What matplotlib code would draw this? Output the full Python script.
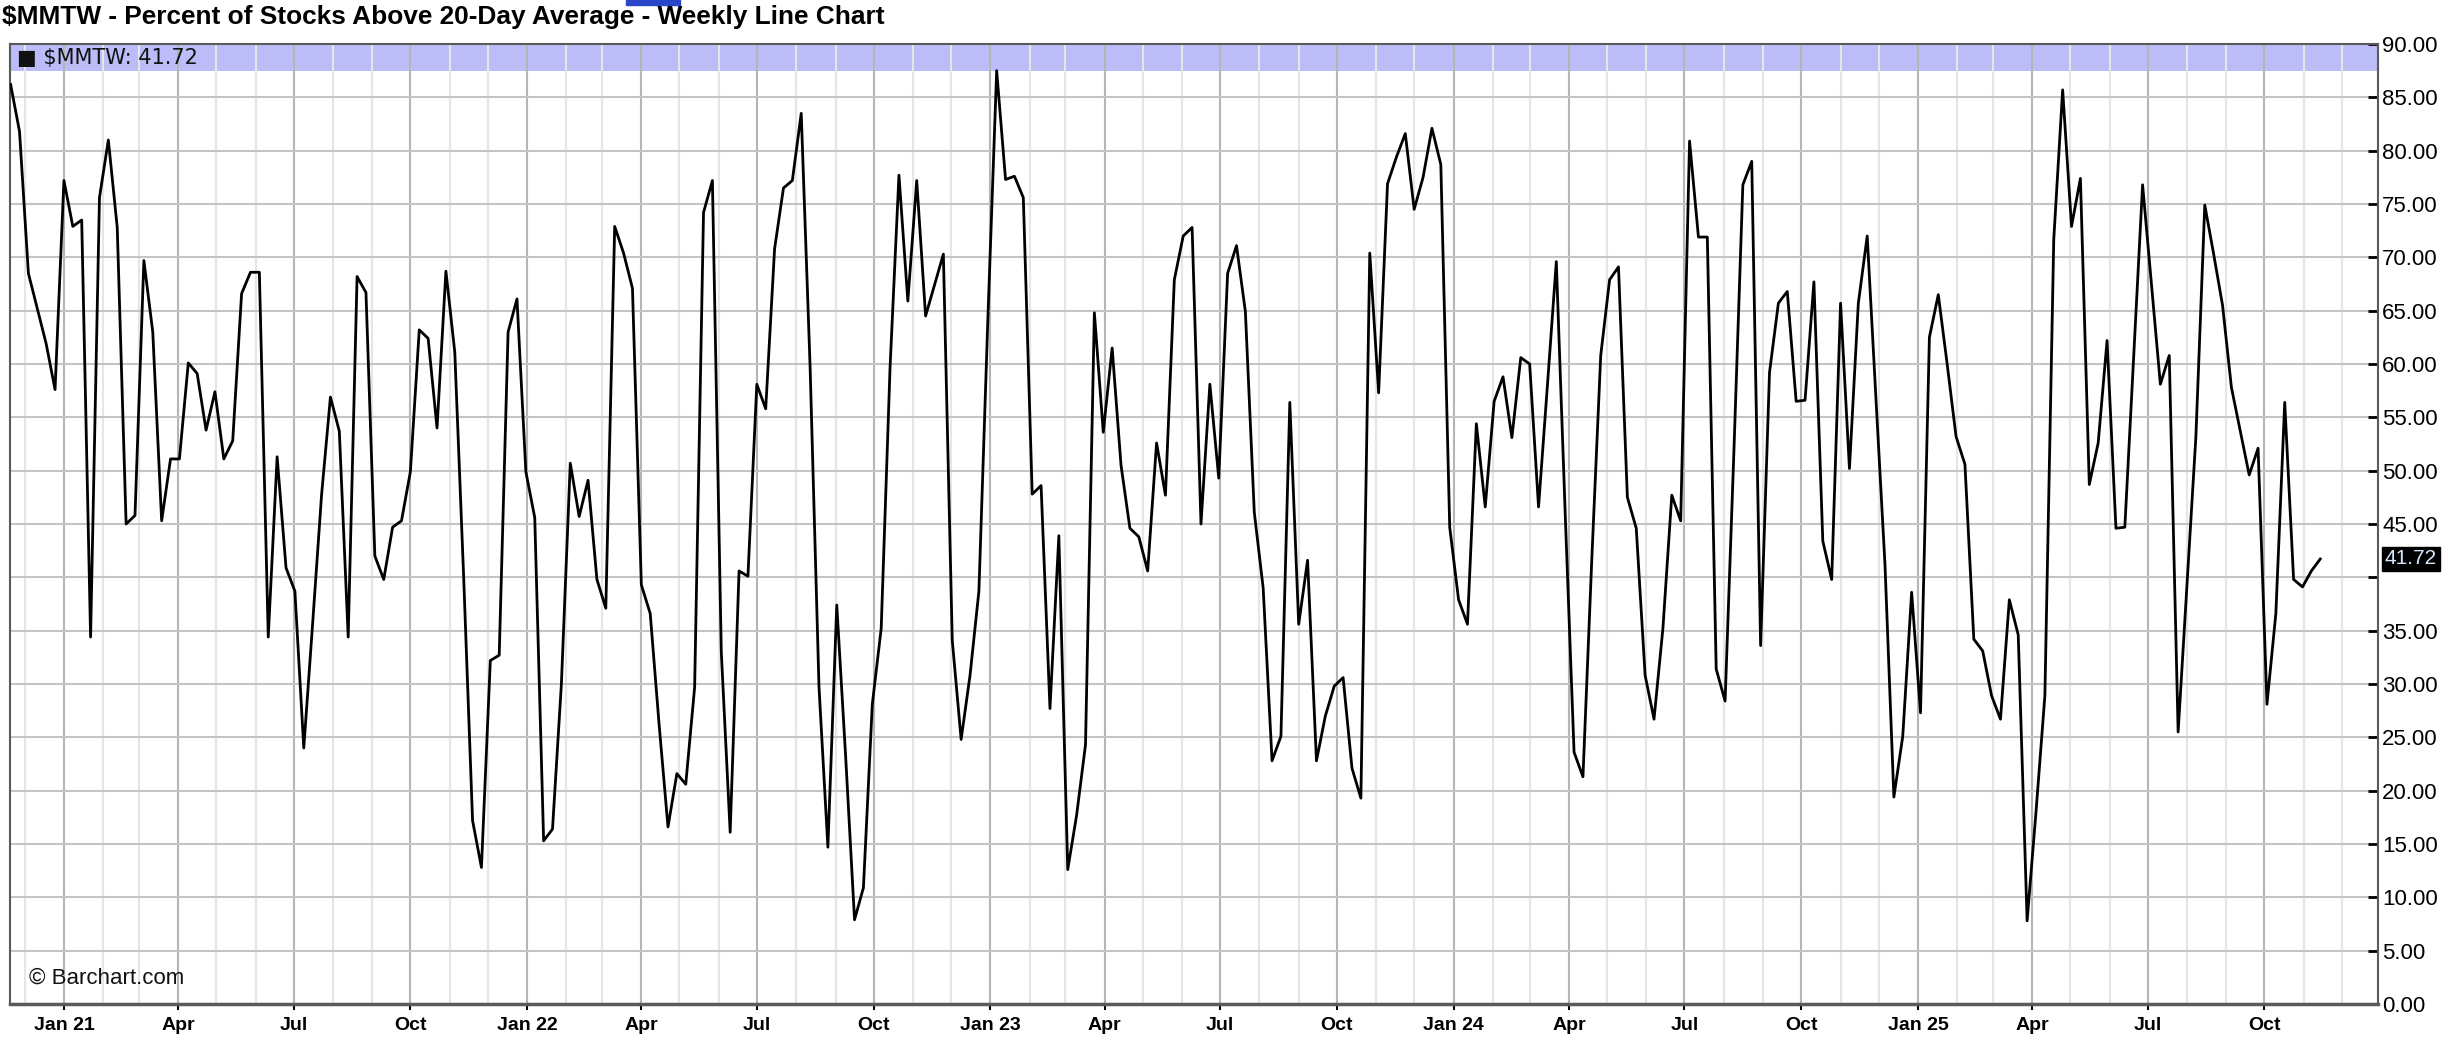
import numpy as np
import pandas as pd
import matplotlib
matplotlib.use("Agg")
import matplotlib.pyplot as plt
import matplotlib.dates as mdates
from matplotlib.ticker import FixedLocator, FuncFormatter
from matplotlib.patches import Rectangle

plt.rcParams['text.parse_math'] = False
NARROW = ['Liberation Sans Narrow', 'Liberation Sans', 'DejaVu Sans']
plt.rcParams['font.family'] = NARROW

# weekly readings of $MMTW, first week ending 2020-11-20
start_date = '2020-11-20'
mmtw = [
    86.2, 81.8, 68.5, 65.2, 61.9, 57.6, 77.2, 72.9, 73.5, 34.4,
    75.6, 81.0, 72.8, 45.0, 45.8, 69.7, 63.0, 45.3, 51.1, 51.1,
    60.1, 59.1, 53.8, 57.4, 51.1, 52.8, 66.6, 68.6, 68.6, 34.4,
    51.3, 40.9, 38.7, 24.0, 35.7, 47.7, 56.9, 53.7, 34.4, 68.2,
    66.7, 42.0, 39.8, 44.7, 45.3, 49.9, 63.2, 62.4, 54.0, 68.7,
    61.1, 40.0, 17.2, 12.8, 32.2, 32.7, 63.0, 66.1, 49.9, 45.6,
    15.3, 16.4, 30.0, 50.7, 45.7, 49.1, 39.8, 37.1, 72.9, 70.4,
    67.1, 39.3, 36.6, 26.2, 16.6, 21.6, 20.6, 29.7, 74.2, 77.2,
    33.0, 16.1, 40.6, 40.1, 58.1, 55.8, 70.8, 76.5, 77.2, 83.5,
    59.7, 29.7, 14.7, 37.4, 23.2, 7.9, 10.9, 28.1, 35.2, 59.7,
    77.7, 65.9, 77.2, 64.5, 67.4, 70.3, 34.1, 24.8, 30.8, 38.7,
    64.0, 87.5, 77.3, 77.6, 75.6, 47.8, 48.6, 27.7, 43.9, 12.6,
    17.7, 24.3, 64.8, 53.6, 61.5, 50.5, 44.6, 43.8, 40.6, 52.6,
    47.7, 67.9, 72.0, 72.8, 45.0, 58.1, 49.3, 68.5, 71.1, 64.9,
    46.1, 39.0, 22.8, 25.1, 56.4, 35.6, 41.6, 22.8, 27.0, 29.8,
    30.6, 22.1, 19.3, 70.4, 57.3, 76.9, 79.4, 81.6, 74.5, 77.5,
    82.1, 78.7, 44.7, 37.9, 35.6, 54.4, 46.6, 56.5, 58.8, 53.1,
    60.6, 60.0, 46.6, 58.0, 69.6, 46.0, 23.6, 21.3, 41.8, 60.8,
    67.9, 69.1, 47.5, 44.6, 30.8, 26.7, 35.2, 47.7, 45.3, 80.9,
    71.9, 71.9, 31.4, 28.4, 52.0, 76.8, 79.0, 33.6, 59.2, 65.7,
    66.8, 56.5, 56.6, 67.7, 43.4, 39.8, 65.7, 50.2, 65.7, 72.0,
    56.5, 41.2, 19.4, 25.1, 38.6, 27.3, 62.5, 66.5, 60.0, 53.2,
    50.6, 34.2, 33.1, 28.9, 26.7, 37.9, 34.6, 7.8, 18.0, 28.9,
    71.7, 85.7, 72.9, 77.4, 48.7, 52.6, 62.2, 44.6, 44.7, 60.8,
    76.8, 67.4, 58.1, 60.8, 25.5, 39.3, 53.2, 74.9, 70.3, 65.5,
    57.8, 53.7, 49.6, 52.1, 28.1, 36.6, 56.4, 39.8, 39.1, 40.6,
    41.72,
]
dates = pd.date_range(start_date, periods=len(mmtw), freq='7D')
last = mmtw[-1]

quarter_months = [1, 4, 7, 10]
month_names = {1: 'Jan', 4: 'Apr', 7: 'Jul', 10: 'Oct'}
y_ticks = np.arange(0, 91, 5)

W, H = 2448, 1047
fig = plt.figure(figsize=(W / 100, H / 100), dpi=100)
ax = fig.add_axes([10 / W, 1 - 1004 / H, 2368 / W, 960 / H])

ax.plot(dates, mmtw, color='black', lw=2.0, zorder=3)
ax.axhspan(87.45, 90, color='#bcbcf9', lw=0, zorder=0)

ax.set_xlim(pd.Timestamp('2020-11-19 12:00'), pd.Timestamp('2025-12-29 12:00'))
ax.set_ylim(0, 90)

ax.xaxis.set_major_locator(mdates.MonthLocator(bymonth=quarter_months))
ax.xaxis.set_minor_locator(mdates.MonthLocator())


def xfmt(v, pos):
    d = mdates.num2date(v)
    if d.month == 1:
        return 'Jan %02d' % (d.year % 100)
    return month_names.get(d.month, '')


ax.xaxis.set_major_formatter(FuncFormatter(xfmt))

ax.yaxis.tick_right()
ax.yaxis.set_major_locator(FixedLocator(y_ticks))
ax.yaxis.set_major_formatter(
    FuncFormatter(lambda v, p: '' if abs(v - last) < 3 else '%.2f' % v))

ax.grid(which='major', axis='x', color='#b5b5b5', lw=1.5, zorder=1)
ax.grid(which='minor', axis='x', color='#e6e6e6', lw=1.5, zorder=1)
ax.grid(which='major', axis='y', color='#c4c4c4', lw=1.5, zorder=1)
ax.set_axisbelow(True)

ax.tick_params(axis='y', which='major', direction='in', length=7, width=2,
               color='black', labelsize=16, pad=3,
               labelfontfamily=['Liberation Sans', 'DejaVu Sans'])
ax.tick_params(axis='x', which='major', direction='out', length=4.5, width=1.5,
               color='black', labelsize=14, pad=5)
ax.tick_params(axis='x', which='minor', length=0)
for lab in ax.get_xticklabels():
    lab.set_fontweight('bold')

for side in ['left', 'top', 'right', 'bottom']:
    ax.spines[side].set_color('#5a5a5a')
    ax.spines[side].set_linewidth(1.5)
ax.spines['bottom'].set_linewidth(2.5)

# legend strip and watermark
ax.text(0.003, 88.7, '\u25a0 $MMTW: 41.72', transform=ax.get_yaxis_transform(),
        fontsize=15, va='center', ha='left', color='#111111',
        family=['Liberation Sans Narrow', 'DejaVu Sans'])
ax.text(0.008, 2.4, '\u00a9 Barchart.com', transform=ax.get_yaxis_transform(),
        fontsize=16, va='center', ha='left', color='#111111')

# last value marker on the price axis
ax.annotate('%.2f' % last, xy=(1, last), xycoords=('axes fraction', 'data'),
            xytext=(5, 0), textcoords='offset points', va='center', ha='left',
            fontsize=15, color='#d8e6ff', family=['Liberation Sans', 'DejaVu Sans'],
            bbox=dict(boxstyle='square,pad=0.12', fc='black', ec='black'),
            annotation_clip=False)

title = fig.text(2 / W, 1 - 5 / H,
                 '$MMTW - Percent of Stocks Above 20-Day Average - Weekly Line Chart',
                 fontsize=20, fontweight='bold', va='top', ha='left')
# fit the title to the width it has in the source (about 885 px)
fig.canvas.draw()
tw = title.get_window_extent().width
title.set_fontsize(20 * 885 / tw)

fig.patches.append(Rectangle((626 / W, 1 - 5 / H), 54 / W, 5 / H,
                             transform=fig.transFigure, color='#2a46c8'))

fig.savefig('out.png', dpi=100, facecolor='white')
